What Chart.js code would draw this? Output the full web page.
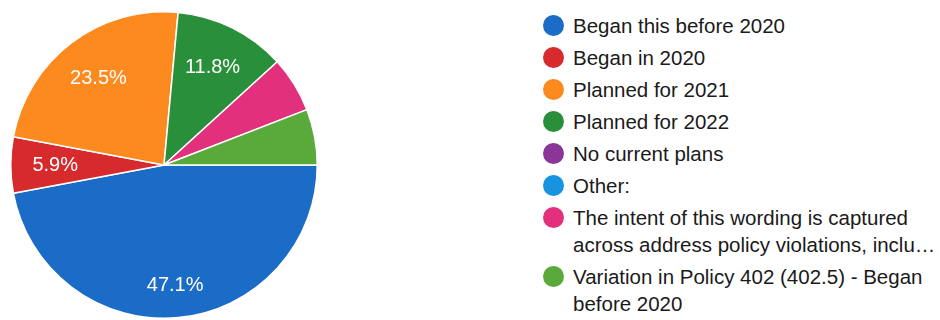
<!DOCTYPE html>
<html>
<head>
<meta charset="utf-8">
<script src="https://cdn.jsdelivr.net/npm/chart.js@4/dist/chart.umd.min.js"></script>
<style>
  body { margin: 0; background: #fff; width: 940px; height: 320px; overflow: hidden; position: relative; font-family: "Liberation Sans", Arial, sans-serif; }
  #pieBox { position: absolute; left: 10px; top: 11px; width: 308px; height: 308px; }
  #legend { position: absolute; left: 543px; top: 12px; width: 395px; }
  .item { display: flex; align-items: flex-start; margin-bottom: 5px; }
  .dot { flex: none; width: 21px; height: 21px; border-radius: 50%; margin-top: 3px; margin-right: 9px; }
  .txt { font-size: 20.5px; line-height: 27px; color: #1a1a1a; max-width: 364px; }
</style>
</head>
<body>
<div id="pieBox"><canvas id="pie"></canvas></div>
<div id="legend"></div>
<script>
// responses per answer (17 total)
const answers = [
  'Began this before 2020',
  'Began in 2020',
  'Planned for 2021',
  'Planned for 2022',
  'No current plans',
  'Other:',
  'The intent of this wording is captured across address policy violations, inclu…',
  'Variation in Policy 402 (402.5) - Began before 2020'
];
const counts = [8, 1, 4, 2, 0, 0, 1, 1];
const sliceColors = ['#1b6cc6', '#d62a2c', '#fd8a1e', '#2a8f3a', '#8b3596', '#1793e0', '#e2307c', '#5aaa3b'];
// which slices get a percentage written on them
const showPct = [true, true, true, true, false, false, false, false];

const total = counts.reduce((a, b) => a + b, 0);

const pctLabels = {
  id: 'pctLabels',
  afterDatasetsDraw(chart) {
    const ctx = chart.ctx;
    const meta = chart.getDatasetMeta(0);
    ctx.save();
    ctx.fillStyle = '#fff';
    ctx.font = '20px "Liberation Sans", Arial, sans-serif';
    ctx.textAlign = 'center';
    ctx.textBaseline = 'middle';
    meta.data.forEach((arc, i) => {
      if (!showPct[i] || !counts[i]) return;
      const span = arc.endAngle - arc.startAngle;
      const mid = (arc.startAngle + arc.endAngle) / 2;
      // big slices keep their label further out
      const d = arc.outerRadius * (span > 2.5 ? 0.79 : 0.71);
      const x = arc.x + Math.cos(mid) * d;
      const y = arc.y + Math.sin(mid) * d;
      ctx.fillText((counts[i] / total * 100).toFixed(1) + '%', x, y);
    });
    ctx.restore();
  }
};

const chart = new Chart(document.getElementById('pie'), {
  type: 'pie',
  data: {
    labels: answers,
    datasets: [{
      data: counts,
      backgroundColor: sliceColors,
      borderColor: '#fff',
      borderWidth: 1.5
    }]
  },
  options: {
    responsive: true,
    maintainAspectRatio: false,
    animation: false,
    rotation: 90,
    layout: { padding: 0 },
    plugins: {
      legend: { display: false },
      tooltip: { enabled: false }
    }
  },
  plugins: [pctLabels]
});

// legend built from the chart's own label items
const legendEl = document.getElementById('legend');
Chart.overrides.pie.plugins.legend.labels.generateLabels(chart).forEach((item) => {
  const row = document.createElement('div');
  row.className = 'item';
  const dot = document.createElement('span');
  dot.className = 'dot';
  dot.style.background = item.fillStyle;
  const txt = document.createElement('span');
  txt.className = 'txt';
  txt.textContent = item.text;
  row.appendChild(dot);
  row.appendChild(txt);
  legendEl.appendChild(row);
});
</script>
</body>
</html>
